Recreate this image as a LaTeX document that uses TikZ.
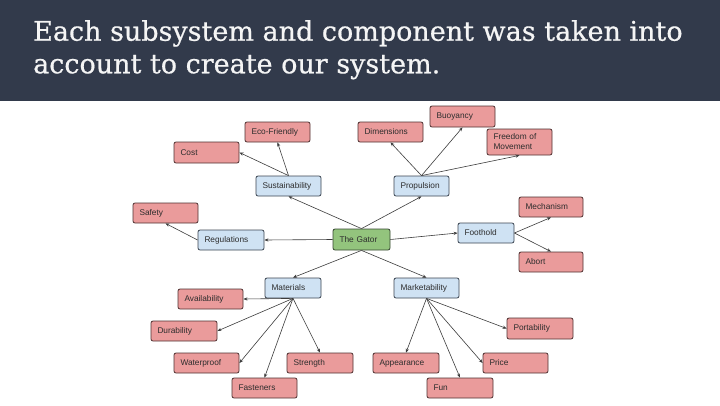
\documentclass[tikz,border=0pt]{standalone}
\usepackage{fontspec}
\setmainfont{Liberation Sans}
\newfontfamily\titlefont[FakeBold=0.6]{DejaVu Serif}
\usetikzlibrary{arrows.meta}
\definecolor{hdr}{RGB}{50,58,75}
\definecolor{redf}{RGB}{234,155,155}
\definecolor{redd}{RGB}{80,50,50}
\definecolor{bluef}{RGB}{207,226,243}
\definecolor{blued}{RGB}{60,70,82}
\definecolor{greenf}{RGB}{147,196,125}
\definecolor{greend}{RGB}{55,72,50}
\definecolor{txt}{RGB}{45,45,45}
\definecolor{arr}{RGB}{60,60,60}
\newcommand{\mybox}[7]{%
  \pgfmathsetmacro\bw{#5-#3}\pgfmathsetmacro\bh{#6-#4}%
  \pgfmathsetmacro\cx{(#3+#5)/2}\pgfmathsetmacro\cy{(#4+#6)/2}%
  \pgfmathsetmacro\tw{\bw-13}%
  \node[#2, text width=\tw pt, minimum height=\bh pt] (#1) at (\cx,\cy) {#7};}
\tikzset{
  basebox/.style={rounded corners=2pt, line width=0.8pt, inner xsep=6.5pt, inner ysep=0pt, align=left, text=txt, font=\fontsize{8.3}{10}\selectfont},
  redbox/.style={basebox, fill=redf, draw=redd},
  bluebox/.style={basebox, fill=bluef, draw=blued},
  greenbox/.style={basebox, fill=greenf, draw=greend},
  conn/.style={draw=arr, line width=0.6pt, -{Stealth[length=4pt,width=3.2pt]}},
  ttl/.style={anchor=base west, inner sep=0pt, text={rgb,255:red,245;green,245;blue,245}, font=\titlefont\fontsize{27}{32}\selectfont}
}
\begin{document}
\begin{tikzpicture}[x=1pt,y=-1pt]
\useasboundingbox (0,0) rectangle (720,405);
\fill[white] (0,0) rectangle (720,405);
\fill[hdr] (0,0) rectangle (720,101);
\node[ttl] (t1) at (33,40.7) {Each subsystem and component was taken into};
\node[ttl] (t2) at (33,73.3) {account to create our system.};
% boxes
\mybox{gator}{greenbox}{333}{229}{390}{250}{The Gator}
\mybox{sust}{bluebox}{256}{176}{321}{196}{Sustainability}
\mybox{prop}{bluebox}{394}{176}{449}{196}{Propulsion}
\mybox{reg}{bluebox}{198}{230}{264}{250}{Regulations}
\mybox{foot}{bluebox}{458}{223}{514}{243}{Foothold}
\mybox{mat}{bluebox}{265}{278}{321}{298}{Materials}
\mybox{mkt}{bluebox}{394}{278}{459}{298}{Marketability}
\mybox{eco}{redbox}{245}{122}{310}{142}{Eco-Friendly}
\mybox{cost}{redbox}{174}{142}{239}{163}{Cost}
\mybox{safety}{redbox}{133}{203}{198}{223}{Safety}
\mybox{dim}{redbox}{358}{122}{423}{142}{Dimensions}
\mybox{buoy}{redbox}{430}{106}{495}{127}{Buoyancy}
\mybox{free}{redbox}{487}{129}{552}{155}{Freedom of\\Movement}
\mybox{mech}{redbox}{519}{197}{583}{217}{Mechanism}
\mybox{abort}{redbox}{519}{252}{583}{272}{Abort}
\mybox{avail}{redbox}{178}{289}{243}{309}{Availability}
\mybox{dur}{redbox}{151}{321}{217}{341}{Durability}
\mybox{water}{redbox}{174}{353}{239}{373}{Waterproof}
\mybox{str}{redbox}{287}{353}{353}{373}{Strength}
\mybox{fast}{redbox}{232}{378}{297}{398}{Fasteners}
\mybox{port}{redbox}{507}{318}{573}{339}{Portability}
\mybox{app}{redbox}{373}{353}{439}{373}{Appearance}
\mybox{price}{redbox}{483}{353}{548}{373}{Price}
\mybox{fun}{redbox}{427}{378}{493}{398}{Fun}
% connectors
\draw[conn] (gator.north) -- (sust.south);
\draw[conn] (gator.north) -- (prop.south);
\draw[conn] (gator.west) -- (reg.east);
\draw[conn] (gator.east) -- (foot.west);
\draw[conn] (gator.south) -- (mat.north);
\draw[conn] (gator.south) -- (mkt.north);
\draw[conn] (sust.north) -- (cost.east);
\draw[conn] (sust.north) -- (eco.south);
\draw[conn] (reg.west) -- (safety.south);
\draw[conn] (prop.north) -- (dim.south);
\draw[conn] (prop.north) -- (buoy.south);
\draw[conn] (prop.north) -- (free.south);
\draw[conn] (foot.east) -- (mech.south);
\draw[conn] (foot.east) -- (abort.north);
\draw[conn] (mat.south) -- (avail.east);
\draw[conn] (mat.south) -- (dur.east);
\draw[conn] (mat.south) -- (water.east);
\draw[conn] (mat.south) -- (fast.north);
\draw[conn] (mat.south) -- (str.north);
\draw[conn] (mkt.south) -- (port.west);
\draw[conn] (mkt.south) -- (app.north);
\draw[conn] (mkt.south) -- (price.west);
\draw[conn] (mkt.south) -- (fun.north);
\end{tikzpicture}
\end{document}
